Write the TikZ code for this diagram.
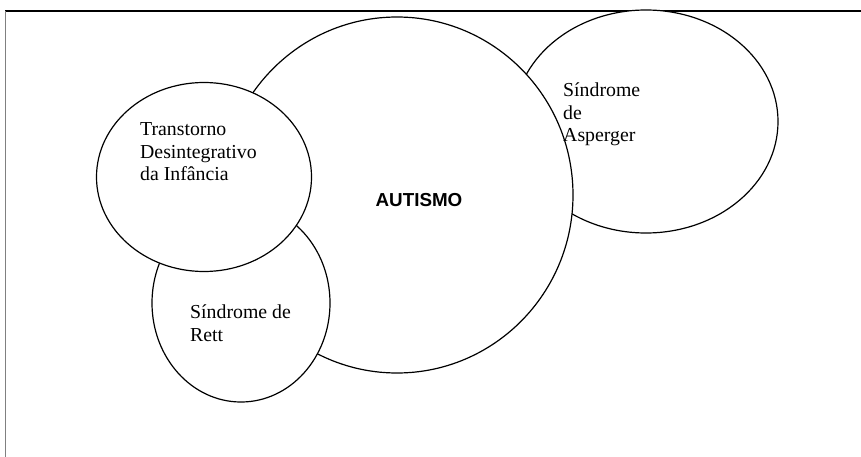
\documentclass[tikz,border=0pt]{standalone}
\usepackage{fontspec}
\setmainfont{Liberation Serif}
\newfontfamily\headsans{Liberation Sans}
\usetikzlibrary{shapes.geometric}
\tikzset{
  blob/.style={ellipse, draw=black, fill=white, line width=1.2pt, inner sep=0pt},
  lbl/.style={anchor=base west, inner sep=0pt, align=left, font=\fontsize{19.8}{22.5}\selectfont},
}
\begin{document}
\begin{tikzpicture}[x=1pt,y=-1pt]
\useasboundingbox (0,0) rectangle (861,457);
% frame lines
\coordinate (tl) at (5,11);
\coordinate (tr) at (861,11);
\coordinate (bl) at (5,457);
\draw[line width=1.8pt] (tl) -- (tr);
\draw[gray, line width=0.8pt] (tl) -- (bl);
% ellipses (back to front)
\node[blob, minimum width=264pt, minimum height=223pt] (asperger) at (646,121.5) {};
\node[blob, minimum width=352pt, minimum height=356pt] (autismo) at (397,195) {};
\node[blob, minimum width=178pt, minimum height=198pt] (rett) at (241,303) {};
\node[blob, minimum width=215pt, minimum height=189pt] (tdi) at (204,177) {};
% texts (anchor = baseline of the last line)
\node[lbl] (tdiT) at (140,181) {Transtorno\\Desintegrativo\\da Infância};
\node[lbl] (aspT) at (563,142) {Síndrome\\de\\Asperger};
\node[lbl] (rettT) at (190,341) {Síndrome de\\Rett};
\node[anchor=base, inner sep=0pt, font=\headsans\bfseries\fontsize{18.8}{22}\selectfont] (autT) at (419,206) {AUTISMO};
\end{tikzpicture}
\end{document}
